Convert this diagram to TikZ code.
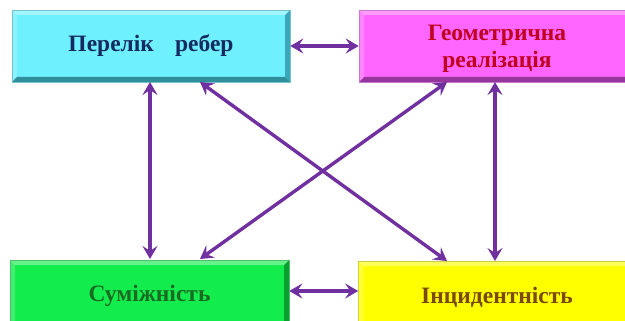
\documentclass[tikz,border=0pt]{standalone}
\usepackage{fontspec}
\setmainfont{Liberation Serif}
\usetikzlibrary{arrows.meta}
\definecolor{arr}{HTML}{7030A0}
\definecolor{cyanf}{HTML}{6FF0FF}
\definecolor{cyand}{HTML}{3AA8B8}
\definecolor{magf}{HTML}{FF66FF}
\definecolor{magd}{HTML}{B040B8}
\definecolor{grnf}{HTML}{12EC4C}
\definecolor{grnd}{HTML}{0AA030}
\definecolor{yelf}{HTML}{FFFF00}
\definecolor{yeld}{HTML}{B8B800}
\definecolor{tnavy}{HTML}{142A60}
\definecolor{tred}{HTML}{C0001E}
\definecolor{tgreen}{HTML}{1A6A22}
\definecolor{tbrown}{HTML}{7A4800}
\tikzset{
  bevelbox/.style n args={2}{rectangle, inner sep=0pt, fill=#1, draw=#2!70, line width=0.6pt,
    font=\bfseries\fontsize{23.5}{28}\selectfont, align=center,
    path picture={
      \coordinate (pNW) at (path picture bounding box.north west);
      \coordinate (pNE) at (path picture bounding box.north east);
      \coordinate (pSW) at (path picture bounding box.south west);
      \coordinate (pSE) at (path picture bounding box.south east);
      \fill[#2] (pNE) -- ([shift={(-5,5)}]pNE) -- ([shift={(-5,-5)}]pSE) -- (pSE) -- cycle;
      \fill[#2!85!black] (pSE) -- ([shift={(-5,-5)}]pSE) -- ([shift={(5,-5)}]pSW) -- (pSW) -- cycle;
      \fill[white,opacity=0.35] (pNW) -- ([shift={(5,5)}]pNW) -- ([shift={(-5,5)}]pNE) -- (pNE) -- cycle;
      \fill[white,opacity=0.2] (pNW) -- ([shift={(5,5)}]pNW) -- ([shift={(5,-5)}]pSW) -- (pSW) -- cycle;
    }},
  boxtext/.style={inner sep=0pt, font=\bfseries\fontsize{23.5}{27}\selectfont, align=center},
  link/.style={draw=arr, line width=3.4pt, {Stealth[length=13pt,width=15pt,inset=5pt]}-{Stealth[length=13pt,width=15pt,inset=5pt]}}
}
\begin{document}
\begin{tikzpicture}[x=1pt,y=-1pt]
\useasboundingbox (0,0) rectangle (625,321);
\clip (0,0) rectangle (625,321);
\node[bevelbox={cyanf}{cyand}, minimum width=278pt, minimum height=72pt, text=tnavy] (A) at (151,46) {Перелік\hspace{0.9em}ребер};
\node[bevelbox={magf}{magd}, minimum width=276pt, minimum height=72pt] (B) at (497,46) {};
\node[boxtext, text=tred] (Bt) at (497,49) {Геометрична\\реалізація};
\node[bevelbox={grnf}{grnd}, minimum width=279pt, minimum height=72pt, text=tgreen] (C) at (149.5,296) {Суміжність};
\node[bevelbox={yelf}{yeld}, minimum width=277pt, minimum height=72pt, text=tbrown] (D) at (497,297) {Інцидентність};
\coordinate (a1) at (150,82);
\coordinate (c1) at (150,259);
\coordinate (a2) at (200,82);
\coordinate (d2) at (447,261);
\coordinate (b1) at (447,82);
\coordinate (c2) at (200,259);
\coordinate (b3) at (495,82);
\coordinate (d3) at (495,261);
\draw[link] (A.east |- 0,46) -- (B.west |- 0,46);
\draw[link] (C.east |- 0,291) -- (D.west |- 0,291);
\draw[link] (a1) -- (c1);
\draw[link] (a2) -- (d2);
\draw[link] (b1) -- (c2);
\draw[link] (b3) -- (d3);
\end{tikzpicture}
\end{document}
